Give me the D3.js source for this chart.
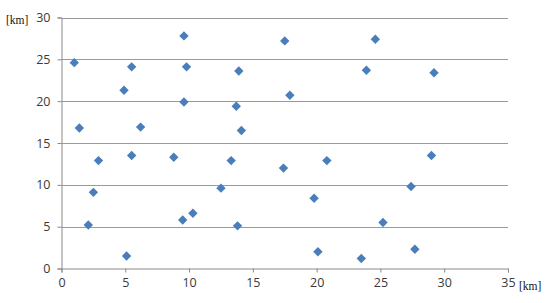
<!DOCTYPE html>
<html lang="en">
<head>
    <meta charset="UTF-8">
    <title>scatter km</title>
    <script src="https://d3js.org/d3.v7.min.js"></script>
    <style>
body { margin: 0; background: #fff; }
.tick text { font-family: "Open Sans", sans-serif; font-size: 12.5px; fill: #3a3a3a; }
.unit { font-family: "Liberation Serif", serif; font-size: 11.5px; fill: #111; }
</style>
</head>
<body>
    <div id="container"></div>
    <script>
// point positions in km
const xValues = [1.0, 1.4, 2.9, 2.5, 2.1, 4.9, 5.5, 6.2, 5.5, 5.1, 8.8, 9.6, 9.8, 9.6, 9.5, 10.3, 12.5, 13.3,
                 13.9, 13.7, 14.1, 13.8, 17.5, 17.9, 17.4, 19.8, 20.8, 20.1, 23.9, 24.6, 23.5, 25.2, 29.2, 29.0, 27.4, 27.7];
const yValues = [24.6, 16.8, 12.9, 9.1, 5.2, 21.3, 24.1, 16.9, 13.5, 1.5, 13.3, 27.8, 24.1, 19.9, 5.8, 6.6, 9.6, 12.9,
                 23.6, 19.4, 16.5, 5.1, 27.2, 20.7, 12.0, 8.4, 12.9, 2.0, 23.7, 27.4, 1.2, 5.5, 23.4, 13.5, 9.8, 2.3];
const xTicks = [0, 5, 10, 15, 20, 25, 30, 35];
const yTicks = [0, 5, 10, 15, 20, 25, 30];

const width = 550, height = 303;
const plotLeft = 61.5, plotRight = 508, plotTop = 17.5, plotBottom = 268.5;

const svg = d3.select("#container")
    .append("svg")
    .attr("width", width)
    .attr("height", height);

const x = d3.scaleLinear().domain([0, 35]).range([plotLeft, plotRight]);
const y = d3.scaleLinear().domain([0, 30]).range([plotBottom, plotTop]);

// horizontal gridlines
svg.append("g")
    .selectAll("line")
    .data(yTicks.filter(d => d > 0))
    .join("line")
    .attr("x1", plotLeft).attr("x2", plotRight)
    .attr("y1", d => Math.round(y(d)) + 0.5).attr("y2", d => Math.round(y(d)) + 0.5)
    .attr("stroke", "#9a9a9a");

const xAxis = svg.append("g")
    .attr("transform", `translate(0,${plotBottom})`)
    .call(d3.axisBottom(x).tickValues(xTicks).tickSize(4).tickPadding(6));
const yAxis = svg.append("g")
    .attr("transform", `translate(${plotLeft},0)`)
    .call(d3.axisLeft(y).tickValues(yTicks).tickSize(4).tickPadding(7));

[xAxis, yAxis].forEach(a => {
    a.select(".domain").attr("stroke", "#8a8a8a");
    a.selectAll(".tick line").attr("stroke", "#8a8a8a");
});

// units
svg.append("text").attr("class", "unit").attr("x", 6).attr("y", 24).text("[km]");
svg.append("text").attr("class", "unit").attr("x", 519).attr("y", 290).text("[km]");

// diamonds
const diamond = d3.symbol().type(d3.symbolSquare).size(44);
svg.append("g")
    .selectAll("path")
    .data(xValues.map((v, i) => [v, yValues[i]]))
    .join("path")
    .attr("d", diamond)
    .attr("transform", d => `translate(${x(d[0])},${y(d[1])}) rotate(45)`)
    .attr("fill", "#4a7ebb");
</script>
</body>
</html>
